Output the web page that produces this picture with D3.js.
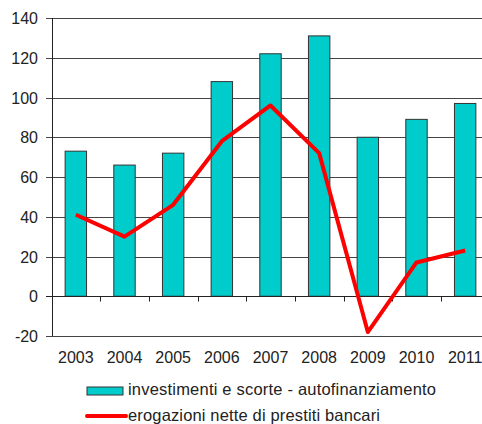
<!DOCTYPE html>
<html>
<head>
<meta charset="utf-8">
<script src="https://cdn.jsdelivr.net/npm/d3@7"></script>
<style>
body { margin: 0; background: #fff; }
text { font-family: "Liberation Sans", Arial, sans-serif; fill: #222; }
</style>
</head>
<body>
<script>
var w = 482;
var h = 424;

var years = ["2003","2004","2005","2006","2007","2008","2009","2010","2011"];
var investimenti = [73, 66, 72, 108, 122, 131, 80, 89, 97];
var erogazioni = [41, 30, 46, 78, 96, 72, -18, 17, 23];
var yTicks = [-20, 0, 20, 40, 60, 80, 100, 120, 140];

var svg = d3.select("body")
    .append("svg")
    .attr("width", w)
    .attr("height", h);

var x = d3.scaleBand().domain(years).range([51.5, 489.5]).paddingInner(0.56).paddingOuter(0.28);
var xStep = d3.scaleBand().domain(years).range([51.5, 489.5]);
var y = d3.scaleLinear().domain([-20, 140]).range([336, 18]);

/** gridlines **/
svg.selectAll("line.grid")
    .data(yTicks.filter(function(d){ return d != 0; }))
    .enter()
    .append("line")
    .attr("class", "grid")
    .attr("x1", 46)
    .attr("x2", w)
    .attr("y1", function(d){ return Math.round(y(d)) + 0.5; })
    .attr("y2", function(d){ return Math.round(y(d)) + 0.5; })
    .attr("stroke", "#444")
    .attr("stroke-width", 1);

/** bars **/
svg.selectAll("rect.bar")
    .data(investimenti)
    .enter()
    .append("rect")
    .attr("class", "bar")
    .attr("x", function(d, i){ return x(years[i]); })
    .attr("y", function(d){ return y(d); })
    .attr("width", x.bandwidth())
    .attr("height", function(d){ return y(0) - y(d); })
    .attr("fill", "#00cccc")
    .attr("stroke", "#333")
    .attr("stroke-width", 1);

/** zero axis with ticks **/
var zeroY = Math.round(y(0)) + 0.5;
svg.append("line")
    .attr("x1", 46).attr("x2", w)
    .attr("y1", zeroY).attr("y2", zeroY)
    .attr("stroke", "#222");
svg.selectAll("line.xtick")
    .data(years.slice(1))
    .enter()
    .append("line")
    .attr("class", "xtick")
    .attr("x1", function(d){ return Math.round(xStep(d)) + 0.5; })
    .attr("x2", function(d){ return Math.round(xStep(d)) + 0.5; })
    .attr("y1", zeroY)
    .attr("y2", zeroY + 5)
    .attr("stroke", "#222");

/** y axis **/
svg.append("line")
    .attr("x1", 52.5).attr("x2", 52.5)
    .attr("y1", y(140)).attr("y2", y(-20))
    .attr("stroke", "#222");

svg.selectAll("text.ylab")
    .data(yTicks)
    .enter()
    .append("text")
    .attr("class", "ylab")
    .text(function(d){ return d; })
    .attr("text-anchor", "end")
    .attr("x", 38)
    .attr("y", function(d){ return y(d) + 6; })
    .attr("font-size", "16px");

/** x labels **/
svg.selectAll("text.xlab")
    .data(years)
    .enter()
    .append("text")
    .attr("class", "xlab")
    .text(function(d){ return d; })
    .attr("text-anchor", "middle")
    .attr("x", function(d){ return xStep(d) + xStep.bandwidth() / 2; })
    .attr("y", 363)
    .attr("font-size", "16px");

/** red line **/
var line = d3.line()
    .x(function(d, i){ return xStep(years[i]) + xStep.bandwidth() / 2; })
    .y(function(d){ return y(d); });

svg.append("path")
    .datum(erogazioni)
    .attr("d", line)
    .attr("fill", "none")
    .attr("stroke", "#ff0000")
    .attr("stroke-width", 4)
    .attr("stroke-linejoin", "round");

/** legend **/
svg.append("rect")
    .attr("x", 87).attr("y", 387)
    .attr("width", 36).attr("height", 8)
    .attr("fill", "#00cccc")
    .attr("stroke", "#333");
svg.append("text")
    .text("investimenti e scorte - autofinanziamento")
    .attr("x", 128).attr("y", 395)
    .attr("font-size", "16.5px")
    .attr("textLength", 308)
    .attr("lengthAdjust", "spacing");

svg.append("line")
    .attr("x1", 87).attr("x2", 126)
    .attr("y1", 416).attr("y2", 416)
    .attr("stroke", "#ff0000")
    .attr("stroke-width", 4)
    .attr("stroke-linecap", "round");
svg.append("text")
    .text("erogazioni nette di prestiti bancari")
    .attr("x", 128).attr("y", 421)
    .attr("font-size", "16.5px")
    .attr("textLength", 252)
    .attr("lengthAdjust", "spacing");
</script>
</body>
</html>
